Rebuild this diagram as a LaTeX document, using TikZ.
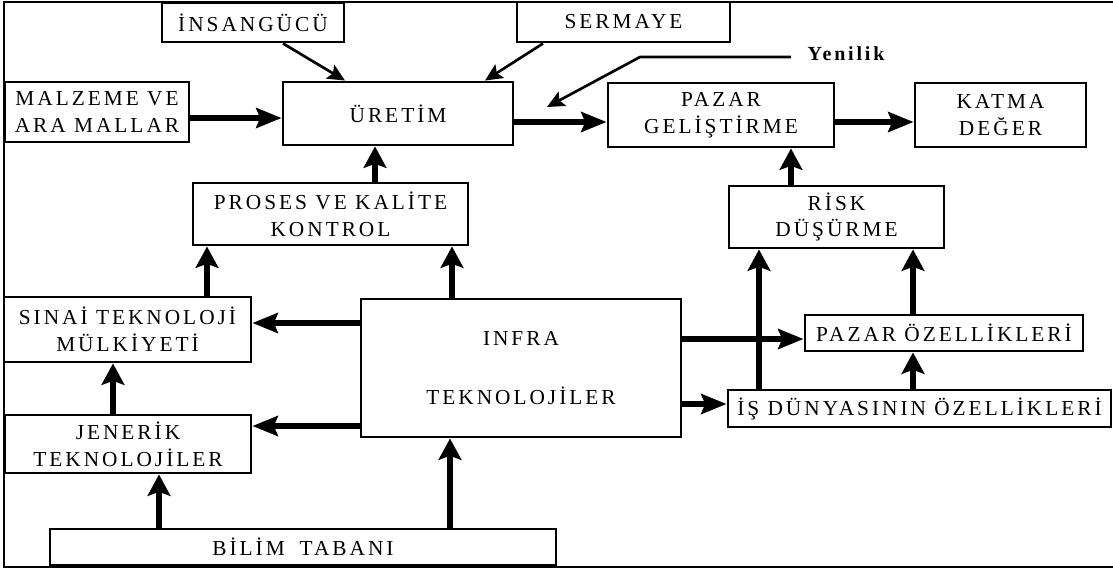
\documentclass[tikz,border=0pt]{standalone}
\usepackage{fontspec}
\setmainfont{Liberation Serif}[LetterSpace=14]
\usetikzlibrary{arrows.meta,calc}

\begin{document}
\begin{tikzpicture}[x=0.75pt,y=-0.75pt,
  sz/.style 2 args={minimum width=#1*0.75pt, minimum height=#2*0.75pt},
  box/.style={draw, line width=2.2pt, inner sep=0pt, align=center,
              font=\fontsize{16}{20}\selectfont},
  flow/.style={line width=3.8pt, -{Stealth[length=16pt,width=17pt,inset=3pt]}},
  hflow/.style={line width=3.8pt, -{Stealth[length=19pt,width=15pt,inset=3pt]}},
  feed/.style={line width=2pt, -{Stealth[length=13pt,width=12pt,inset=2.5pt]}},
  label/.style={font=\fontsize{15}{18}\selectfont\bfseries}
]
\useasboundingbox (0,0) rectangle (1113,576);

% outer frame (open on the right)
\draw[line width=1.2pt] (1113,2) -- (4,2) -- (4,567) -- (1113,567);

% boxes
\node[box, sz={182}{39}]  (ins) at (253,22.5)   {İNSANGÜCÜ};
\node[box, sz={213}{40}]  (ser) at (623.5,22)   {SERMAYE};
\node[box, sz={184}{60}]  (mal) at (97,112)     {MALZEME VE\\ARA MALLAR};
\node[box, sz={230}{63}]  (ure) at (398,113.5)  {ÜRETİM};
\node[box, sz={226}{64}]  (paz) at (721,115)    {PAZAR\\GELİŞTİRME};
\node[box, sz={171}{64}]  (kat) at (1000.5,115) {KATMA\\DEĞER};
\node[label]              (yen) at (846,54)     {Yenilik};
\node[box, sz={275}{62}]  (pro) at (330.5,214)  {PROSES VE KALİTE\\KONTROL};
\node[box, sz={215}{62}]  (ris) at (836.5,217)  {RİSK\\DÜŞÜRME};
\node[box, sz={247}{65}]  (sin) at (127.5,329.5){SINAİ TEKNOLOJİ\\MÜLKİYETİ};
\node[box, sz={320}{138}] (inf) at (521,368)    {INFRA\\[24pt]TEKNOLOJİLER};
\node[box, sz={278}{36}]  (pzo) at (944,333)    {PAZAR ÖZELLİKLERİ};
\node[box, sz={383}{37}]  (isd) at (919.5,408.5){İŞ DÜNYASININ ÖZELLİKLERİ};
\node[box, sz={246}{58}]  (jen) at (128,444)    {JENERİK\\TEKNOLOJİLER};
\node[box, sz={506}{36}]  (bil) at (303,547)    {BİLİM\hspace{0.7em}TABANI};

% inputs to production
\draw[feed] ($(ins.south)+(30,0)$) -- ($(ure.north)+(-53,0)$);
\draw[feed] ($(ser.south)+(-80.5,0)$) -- ($(ure.north)+(87,0)$);
\coordinate (ybend) at (640,57);
\coordinate (ytip) at (547,107);
\draw[feed] ($(yen.west)+(-12,3)$) -- (ybend) -- (ytip);

% main chain
\draw[hflow] (mal.east |- 0,118) -- (ure.west |- 0,118);
\draw[hflow] (ure.east |- 0,122) -- (paz.west |- 0,122);
\draw[hflow] (paz.east |- 0,122) -- (kat.west |- 0,122);
\draw[flow] (pro.north -| 375,0) -- (ure.south -| 375,0);
\draw[flow] (ris.north -| 791,0) -- (paz.south -| 791,0);

% left branch
\draw[flow] (sin.north -| 207,0) -- (pro.south -| 207,0);
\draw[flow] (inf.north -| 452,0) -- (pro.south -| 452,0);
\draw[hflow] (inf.west |- 0,323) -- (sin.east |- 0,323);
\draw[hflow] (inf.west |- 0,426) -- (jen.east |- 0,426);
\draw[flow] (jen.north -| 113,0) -- (sin.south -| 113,0);
\draw[flow] (bil.north -| 159,0) -- (jen.south -| 159,0);
\draw[flow] (bil.north -| 450,0) -- (inf.south -| 450,0);

% right branch
\draw[hflow] (inf.east |- 0,339) -- (pzo.west |- 0,339);
\draw[hflow] (inf.east |- 0,404) -- (isd.west |- 0,404);
\draw[flow] (isd.north -| 759,0) -- (ris.south -| 759,0);
\draw[flow] (isd.north -| 913,0) -- (pzo.south -| 913,0);
\draw[flow] (pzo.north -| 913,0) -- (ris.south -| 913,0);
\end{tikzpicture}
\end{document}
